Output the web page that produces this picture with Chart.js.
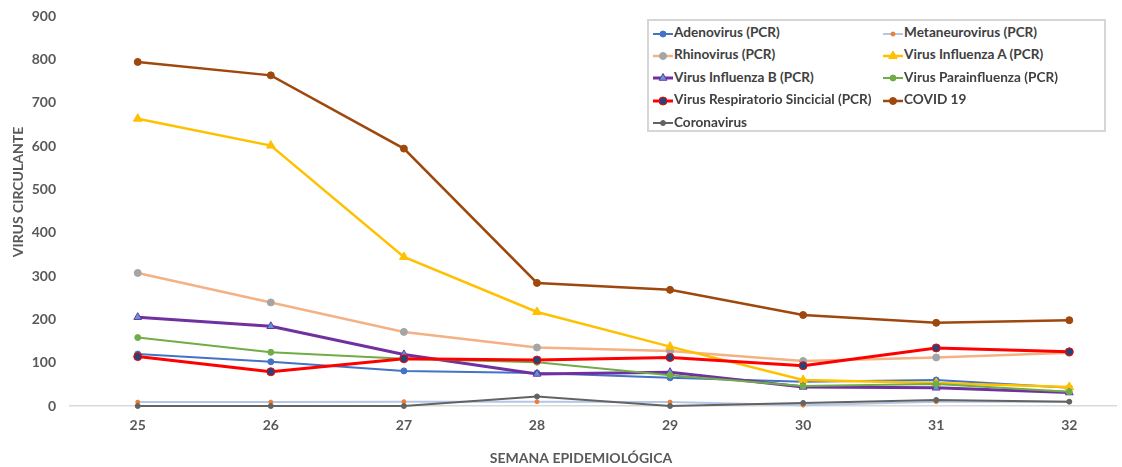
<!DOCTYPE html>
<html>
<head>
<meta charset="utf-8">
<script src="https://cdn.jsdelivr.net/npm/chart.js@4"></script>
<style>
  html, body { margin: 0; padding: 0; background: #fff; overflow: hidden; }
  #wrap { position: relative; width: 1122px; height: 467px; }
  #chart { display: block; }
  #legend {
    position: absolute; left: 647px; top: 19px; width: 455px; height: 109px;
    border: 2px solid #d6d6d6; background: #fff;
    font-family: Lato, sans-serif; font-weight: bold; font-size: 13.6px; color: #404040;
  }
  .item { position: absolute; height: 16px; line-height: 16px; white-space: nowrap; }
  .item canvas { vertical-align: middle; margin-right: 1px; }
</style>
</head>
<body>
<div id="wrap">
  <canvas id="chart" width="1122" height="467"></canvas>
  <div id="legend"></div>
</div>
<script>
// semanas epidemiológicas
const weeks = [25, 26, 27, 28, 29, 30, 31, 32];

const adenovirus     = [120, 102, 81, 76, 65, 56, 60, 42];
const metaneurovirus = [9, 9, 10, 10, 9, 2, 10, 10];
const rhinovirus     = [307, 239, 171, 135, 127, 104, 112, 123];
const influenzaA     = [663, 601, 344, 217, 137, 60, 53, 44];
const influenzaB     = [205, 184, 119, 74, 78, 44, 42, 31];
const parainfluenza  = [158, 124, 109, 101, 71, 46, 51, 33];
const rsv            = [114, 79, 109, 106, 112, 93, 134, 125];
const covid19        = [794, 763, 594, 284, 268, 210, 192, 198];
const coronavirus    = [0, 0, 0, 22, 0, 7, 14, 10];

const yTitle = 'VIRUS CIRCULANTE';
const xTitle = 'SEMANA EPIDEMIOLÓGICA';

const series = [
    { label: 'Adenovirus (PCR)', data: adenovirus, color: '#4472C4', point: '#4472C4', pb: '#4472C4', style: 'circle', r: 3, w: 2 },
    { label: 'Metaneurovirus (PCR)', data: metaneurovirus, color: '#B4C7E7', point: '#ED7D31', pb: '#ED7D31', style: 'circle', r: 2, w: 2 },
    { label: 'Rhinovirus (PCR)', data: rhinovirus, color: '#F4B183', point: '#A5A5A5', pb: '#A5A5A5', style: 'circle', r: 3.5, w: 2.5 },
    { label: 'Virus Influenza A (PCR)', data: influenzaA, color: '#FFC000', point: '#FFC000', pb: '#FFC000', style: 'triangle', r: 5, w: 2.5 },
    { label: 'Virus Influenza B (PCR)', data: influenzaB, color: '#7030A0', point: '#5B9BD5', pb: '#7030A0', style: 'triangle', r: 4.5, w: 3 },
    { label: 'Virus Parainfluenza (PCR)', data: parainfluenza, color: '#70AD47', point: '#70AD47', pb: '#70AD47', style: 'circle', r: 3, w: 2 },
    { label: 'Virus Respiratorio Sincicial (PCR)', data: rsv, color: '#FF0000', point: '#264478', pb: '#FF0000', style: 'circle', r: 4, w: 3 },
    { label: 'COVID 19', data: covid19, color: '#9E480E', point: '#9E480E', pb: '#9E480E', style: 'circle', r: 3.5, w: 2.5 },
    { label: 'Coronavirus', data: coronavirus, color: '#636363', point: '#636363', pb: '#636363', style: 'circle', r: 2.5, w: 2 }
];

const datasets = series.map((s, i) => ({
    label: s.label,
    data: weeks.map((w, j) => ({ x: w, y: s.data[j] })),
    borderColor: s.color,
    backgroundColor: s.point,
    pointBackgroundColor: s.point,
    pointBorderColor: s.pb,
    pointBorderWidth: 1,
    pointStyle: s.style,
    pointRadius: s.r,
    borderWidth: s.w,
    tension: 0,
    clip: false,
    order: series.length - i
}));

const tickFont = { family: 'Lato', weight: 'bold', size: 14 };

// axis titles, placed like in the original (not centred on the plot)
const axisTitles = {
    id: 'axisTitles',
    afterDraw(chart) {
        const ctx = chart.ctx;
        ctx.save();
        ctx.fillStyle = '#595959';
        ctx.textAlign = 'center';
        ctx.textBaseline = 'middle';
        ctx.font = 'bold 14px Lato';
        ctx.fillText(xTitle, 581, 458);
        ctx.translate(18, 192);
        ctx.rotate(-Math.PI / 2);
        ctx.fillText(yTitle, 0, 0);
        ctx.restore();
    }
};

new Chart(document.getElementById('chart'), {
    type: 'line',
    data: { datasets },
    plugins: [axisTitles],
    options: {
        responsive: false,
        animation: false,
        layout: { padding: { left: 0, top: 16, right: 0, bottom: 0 } },
        plugins: { legend: { display: false }, tooltip: { enabled: false } },
        scales: {
            x: {
                type: 'linear',
                min: 24.491,
                max: 32.351,
                afterBuildTicks: (scale) => { scale.ticks = weeks.map(v => ({ value: v })); },
                afterFit: (scale) => { scale.height = 61; scale.paddingTop = 0; scale.paddingBottom = 0; },
                grid: { display: false, drawTicks: false },
                border: { display: true, color: '#d9d9d9', width: 1.5 },
                ticks: { color: '#595959', font: tickFont, padding: 11, maxRotation: 0 }
            },
            y: {
                min: 0,
                max: 900,
                afterFit: (scale) => { scale.width = 70; scale.paddingTop = 0; scale.paddingBottom = 0; },
                grid: { display: false, drawTicks: false },
                border: { display: false },
                ticks: { stepSize: 100, color: '#595959', font: tickFont, padding: 14 }
            }
        }
    }
});

// legend box, two columns like the original
const legend = document.getElementById('legend');
series.forEach((s, i) => {
    const col = i % 2, row = Math.floor(i / 2);
    const item = document.createElement('div');
    item.className = 'item';
    item.style.left = (col === 0 ? 4 : 234) + 'px';
    item.style.top = (3 + row * 22.4) + 'px';
    const c = document.createElement('canvas');
    c.width = 20; c.height = 12;
    const g = c.getContext('2d');
    g.strokeStyle = s.color; g.lineWidth = s.w;
    g.beginPath(); g.moveTo(0, 6); g.lineTo(20, 6); g.stroke();
    g.fillStyle = s.point; g.strokeStyle = s.pb; g.lineWidth = 1;
    g.beginPath();
    if (s.style === 'triangle') {
        const r = s.r;
        g.moveTo(10, 6 - r); g.lineTo(10 + r * 0.87, 6 + r * 0.5); g.lineTo(10 - r * 0.87, 6 + r * 0.5); g.closePath();
    } else {
        g.arc(10, 6, s.r, 0, Math.PI * 2);
    }
    g.fill(); g.stroke();
    item.appendChild(c);
    item.appendChild(document.createTextNode(s.label));
    legend.appendChild(item);
});
</script>
</body>
</html>
